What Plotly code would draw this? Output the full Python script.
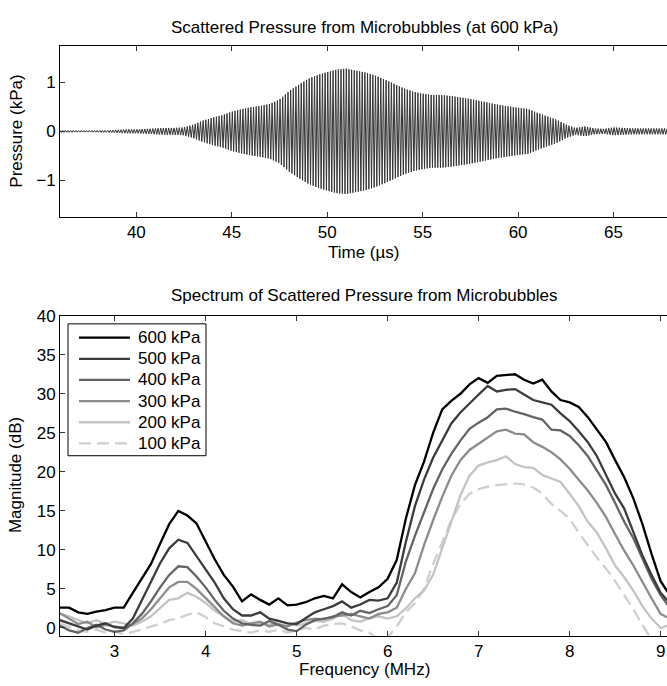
import numpy as np
import plotly.graph_objects as go

# ---------------- data: top panel (envelope of scattered pressure) ----------------
env_time_us = [36.0 + 0.5 * i for i in range(65)]          # 36.0 ... 68.0
env_amp_kpa = [0.02, 0.02, 0.015, 0.015, 0.02, 0.02, 0.03, 0.04, 0.04, 0.05,
               0.06, 0.07, 0.07, 0.08, 0.14, 0.22, 0.28, 0.33, 0.40, 0.45,
               0.49, 0.52, 0.56, 0.65, 0.82, 0.95, 1.07, 1.15, 1.21, 1.26,
               1.28, 1.24, 1.20, 1.14, 1.06, 0.97, 0.88, 0.81, 0.77, 0.74,
               0.74, 0.72, 0.69, 0.66, 0.62, 0.58, 0.54, 0.51, 0.48, 0.46,
               0.38, 0.31, 0.24, 0.14, 0.07, 0.10, 0.06, 0.05, 0.08, 0.07,
               0.06, 0.06, 0.06, 0.06, 0.06]
carrier_mhz = 7.2

# ---------------- data: bottom panel (spectra) ----------------
freq_mhz = [round(2.4 + 0.1 * i, 2) for i in range(68)]    # 2.4 ... 9.1

mag_600 = [2.6, 2.6, 2.0, 1.8, 2.1, 2.3, 2.6, 2.6, 4.5, 6.4,
           8.2, 10.8, 13.3, 15.0, 14.4, 13.4, 11.0, 8.8, 6.8, 5.3,
           3.4, 4.3, 3.6, 3.0, 3.8, 2.9, 3.0, 3.3, 3.8, 4.1,
           3.8, 5.6, 4.6, 3.9, 4.6, 5.2, 6.3, 8.7, 14.0, 18.3,
           21.3, 25.0, 28.0, 29.1, 30.0, 31.2, 32.0, 31.4, 32.3, 32.4,
           32.5, 31.8, 31.3, 31.8, 30.3, 29.2, 28.9, 28.3, 27.0, 25.4,
           23.8, 21.5, 19.3, 16.6, 13.3, 9.5, 6.0, 4.2]
mag_500 = [1.0, 0.6, 0.2, -0.2, 0.3, 0.6, 0.1, 0.0, 1.2, 3.5,
           5.8, 8.3, 10.2, 11.3, 10.9, 9.2, 7.6, 5.8, 3.8, 2.4,
           1.6, 1.6, 2.0, 1.2, 0.9, 0.6, 0.5, 1.2, 2.0, 2.4,
           2.8, 3.4, 2.6, 3.0, 3.6, 3.5, 3.8, 5.8, 11.0, 15.6,
           19.0, 21.8, 24.0, 26.2, 27.6, 28.8, 29.9, 31.0, 30.3, 30.5,
           30.6, 29.9, 29.2, 28.9, 28.6, 27.5, 26.5, 25.2, 23.8, 22.0,
           19.5, 17.2, 15.3, 12.2, 9.3, 6.8, 4.5, 3.2]
mag_400 = [0.3, -0.3, -0.6, 0.0, 0.4, -0.2, -0.5, -0.3, 0.6, 1.8,
           3.4, 5.2, 6.8, 7.9, 7.8, 6.6, 5.2, 3.6, 2.2, 1.2,
           0.6, 0.4, 0.3, 0.9, 0.4, -0.2, -0.4, 0.4, 1.0, 1.2,
           1.4, 2.0, 1.6, 2.2, 1.9, 2.4, 2.8, 4.2, 8.5, 11.8,
           14.8, 17.8, 20.3, 22.3, 24.0, 25.5, 26.3, 27.0, 28.0, 28.1,
           27.7, 27.4, 27.0, 26.7, 25.4, 25.3, 24.6, 23.4, 22.0, 20.2,
           18.3, 16.0, 13.6, 11.5, 8.8, 6.3, 4.2, 2.6]
mag_300 = [1.9, 1.2, 0.5, 0.8, 0.1, 0.4, 0.2, 0.0, 0.5, 1.2,
           2.4, 3.8, 5.2, 5.9, 5.9, 5.0, 3.8, 2.6, 1.5, 0.6,
           0.3, 0.6, 0.8, 0.2, 0.5, 0.2, 0.7, 1.0, 1.2, 1.1,
           1.5, 1.6, 1.8, 1.5, 1.2, 1.8, 2.0, 2.6, 5.0, 7.0,
           10.6, 13.8, 16.8, 19.5, 21.5, 22.8, 23.6, 24.5, 25.2, 25.4,
           24.9, 24.8, 23.8, 23.2, 22.5, 21.6, 20.4, 19.0, 17.6, 16.0,
           14.2, 12.0, 9.9, 8.0, 5.8, 3.8, 1.8, 1.2]
mag_200 = [1.8, 1.5, 1.0, 0.6, 1.0, 0.5, 0.8, 0.6, 0.3, 0.8,
           1.5, 2.5, 3.6, 3.8, 4.5, 4.0, 3.2, 2.2, 1.5, 0.8,
           1.0, 0.5, 0.7, 0.4, 0.9, 0.6, 0.3, 0.6, 0.9, 0.8,
           1.2, 1.8, 1.0, 0.8, 1.3, 1.5, 1.2, 1.5, 2.5, 3.8,
           4.8, 6.8, 10.2, 13.8, 17.0, 19.5, 20.8, 21.2, 21.5, 22.0,
           21.0, 20.6, 20.5, 19.6, 19.2, 18.7, 17.2, 15.6, 13.6, 12.2,
           10.2, 8.0, 6.5, 4.8, 2.8, 1.2, 0.0, 0.4]
mag_100 = [0.6, 0.2, -0.3, -0.5, -0.2, -0.6, -0.4, -0.8, -0.5, -0.2,
           0.2, 0.5, 1.0, 1.2, 1.7, 2.0, 1.4, 0.6, 0.2, -0.2,
           -0.4, -0.6, -0.3, -0.5, -0.2, -0.6, -0.3, 0.0, -0.2, 0.3,
           0.5, 0.6, 0.2, -0.3, -0.6, -1.5, -1.2, 0.2, 2.0, 3.2,
           5.0, 8.2, 11.0, 13.8, 15.9, 17.2, 17.8, 18.1, 18.3, 18.4,
           18.5, 18.4, 18.0, 17.2, 15.9, 15.0, 14.0, 12.2, 10.6, 9.0,
           7.6, 6.0, 4.2, 2.4, 0.4, -1.5, -2.0, -2.0]

series_labels = ["600 kPa", "500 kPa", "400 kPa", "300 kPa", "200 kPa", "100 kPa"]
series_values = [mag_600, mag_500, mag_400, mag_300, mag_200, mag_100]
series_colors = ["#000000", "#3c3c3c", "#646464", "#8c8c8c", "#c4c4c4", "#cfcfcf"]
series_dash = ["solid", "solid", "solid", "solid", "solid", "12px,6px"]

time_ticks = [40, 45, 50, 55, 60, 65]
press_ticks = [-1, 0, 1]
press_ticktext = ["\u22121", "0", "1"]
freq_ticks = [3, 4, 5, 6, 7, 8, 9]
mag_ticks = [0, 5, 10, 15, 20, 25, 30, 35, 40]

# ---------------- build waveform (alternating peaks following the envelope) ----------------
half = 1.0 / (2 * carrier_mhz)
tk = np.arange(36.0, 67.8 + half, half)
amp = np.interp(tk, env_time_us, env_amp_kpa)
sign = np.where(np.arange(len(tk)) % 2 == 0, 1.0, -1.0)
wave = amp * sign

W, H, L = 667, 686, 60
def px2x(px):
    return (px - L) / (W - L)
def py2y(py):
    return (H - py) / H

fig = go.Figure()
fig.add_trace(go.Scatter(x=tk, y=wave, mode="lines", line=dict(color="#353535", width=1),
                         showlegend=False, xaxis="x", yaxis="y"))

for lab, vals, col, dsh in reversed(list(zip(series_labels, series_values, series_colors, series_dash))):
    fig.add_trace(go.Scatter(x=freq_mhz, y=vals, mode="lines", name=lab,
                             line=dict(color=col, width=2.3, dash=dsh),
                             showlegend=False, xaxis="x2", yaxis="y2"))

font_family = "Liberation Sans, Arial, Helvetica, sans-serif"
tick_common = dict(ticks="inside", ticklen=5, tickwidth=1, tickcolor="#333333",
                   showgrid=False, zeroline=False, tickfont=dict(size=17, color="black"),
                   ticklabelstandoff=0)
xcommon = dict(showline=True, linecolor="black", linewidth=1, mirror="ticks", **tick_common)
ycommon = dict(showline=True, linecolor="black", linewidth=1, mirror=False, **tick_common)
rcommon = dict(showline=False, showticklabels=False, side="right", **tick_common)

top_dom = [py2y(211), py2y(37.7)]
bot_dom = [py2y(637), py2y(311.7)]
top_rng = [-1.74, 1.74]
bot_rng = [-1.0, 40]

fig.update_layout(
    width=W, height=H,
    margin=dict(l=L, r=0, t=0, b=0),
    paper_bgcolor="white", plot_bgcolor="white",
    font=dict(family=font_family, size=17, color="black"),
    showlegend=False,
    xaxis=dict(domain=[0, 1], anchor="y", range=[36, 67.8], tickvals=time_ticks, **xcommon),
    yaxis=dict(domain=top_dom, anchor="x", range=top_rng,
               tickvals=press_ticks, ticktext=press_ticktext, **ycommon),
    yaxis3=dict(domain=top_dom, anchor="x", overlaying="y", range=top_rng,
                tickvals=press_ticks, **rcommon),
    xaxis2=dict(domain=[0, 1], anchor="y2", range=[2.4, 9.07], tickvals=freq_ticks, **xcommon),
    yaxis2=dict(domain=bot_dom, anchor="x2", range=bot_rng, tickvals=mag_ticks, **ycommon),
    yaxis4=dict(domain=bot_dom, anchor="x2", overlaying="y2", range=bot_rng,
                tickvals=mag_ticks, **rcommon),
)

# ---------------- legend box (drawn on top of the spectra) ----------------
shapes = [dict(type="rect", xref="paper", yref="paper", layer="above",
               x0=px2x(68), x1=px2x(206), y0=py2y(454), y1=py2y(320),
               line=dict(color="black", width=1), fillcolor="white")]
ann = []
for i, (lab, col, dsh) in enumerate(zip(series_labels, series_colors, series_dash)):
    yy = py2y(334 + 21.5 * i)
    shapes.append(dict(type="line", xref="paper", yref="paper", layer="above",
                       x0=px2x(79), x1=px2x(130), y0=yy, y1=yy,
                       line=dict(color=col, width=2.3, dash=dsh)))
    ann.append(dict(text=lab, x=px2x(136), y=yy, xanchor="left"))
fig.update_layout(shapes=shapes)

ann += [
    dict(text="Scattered Pressure from Microbubbles (at 600 kPa)", x=px2x(364), y=py2y(18.3)),
    dict(text="Time (\u00b5s)", x=px2x(364), y=py2y(247)),
    dict(text="Spectrum of Scattered Pressure from Microbubbles", x=px2x(364), y=py2y(291)),
    dict(text="Frequency (MHz)", x=px2x(364), y=py2y(671)),
    dict(text="Pressure (kPa)", x=px2x(15.7), y=py2y(124), textangle=-90),
    dict(text="Magnitude (dB)", x=px2x(15.7), y=py2y(474), textangle=-90),
]
for a in ann:
    a.setdefault("xanchor", "center")
    fig.add_annotation(xref="paper", yref="paper", yanchor="middle",
                       showarrow=False, font=dict(size=17, color="black"), **a)

fig.write_html("out.html")
